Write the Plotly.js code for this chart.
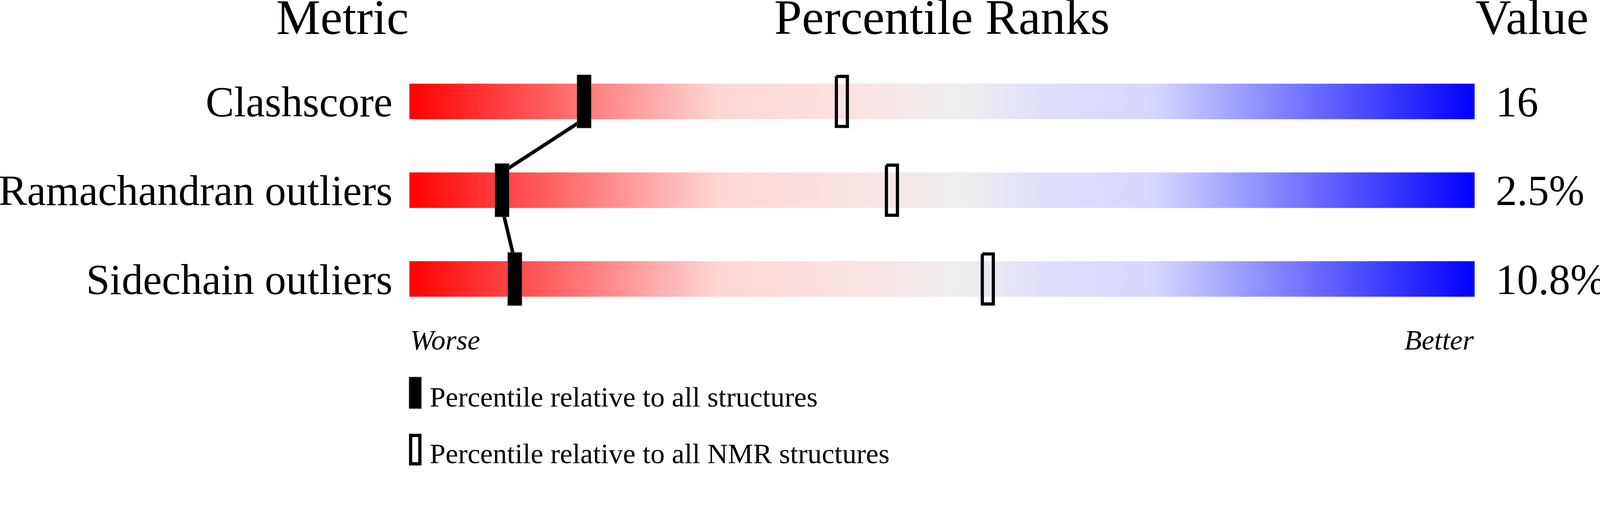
<!DOCTYPE html>
<html>
<head>
<meta charset="utf-8">
<script src="https://cdn.plot.ly/plotly-3.0.1.min.js"></script>
<style>
  html, body { margin: 0; padding: 0; background: #fff; overflow: hidden; }
</style>
</head>
<body>
<div id="chart"></div>
<script>
// values
const metrics = ["Clashscore", "Ramachandran outliers", "Sidechain outliers"];
const values = ["16", "2.5%", "10.8%"];
const pct_all = [16.4, 8.7, 9.9];     // percentile vs all structures
const pct_nmr = [40.6, 45.3, 54.3];   // percentile vs NMR structures
const legend_labels = ["Percentile relative to all structures",
                       "Percentile relative to all NMR structures"];

const FONT = "Liberation Serif";

// design is laid out for a 4506x1311 page, scaled to the real viewport
const W0 = 4506, H0 = 1311;
const s = Math.min(window.innerWidth / W0, window.innerHeight / H0);
const W = W0 * s, H = H0 * s;
const M0 = {l: 1153, r: 353, t: 161, b: 400};
const M = {l: M0.l * s, r: M0.r * s, t: M0.t * s, b: M0.b * s};
const plot_w0 = W0 - M0.l - M0.r;      // 3000
const plot_h0 = H0 - M0.t - M0.b;      // 750
const row_px = plot_h0 / 3;            // 250 px per row
const ux = 100 / plot_w0;              // percentile per design px
const uy = 1 / row_px;                 // row units per design px

// paper coords from design px
const px = p => (p - M0.l) / plot_w0;
const py = p => (H0 - M0.b - p) / plot_h0;

const gradient = [
  [0.00, "#ff0000"],
  [0.29, "#ffd6d6"],
  [0.42, "#fae3e3"],
  [0.52, "#eeeeee"],
  [0.60, "#dedefd"],
  [0.70, "#d6d6ff"],
  [1.00, "#0000ff"],
];

function box(cx, cy, wpx, hpx) {
  let hw = wpx * ux / 2, hh = hpx * uy / 2;
  return {
    x: [cx - hw, cx + hw, cx + hw, cx - hw, cx - hw],
    y: [cy - hh, cy - hh, cy + hh, cy + hh, cy - hh],
  };
}

let data = [];

// gradient sliders
metrics.forEach((m, i) => {
  let b = box(50, i, plot_w0, 100);
  data.push({
    x: b.x, y: b.y,
    type: "scatter", mode: "lines",
    line: {width: 0},
    fill: "toself",
    fillgradient: {type: "horizontal", colorscale: gradient},
    hoverinfo: "skip", showlegend: false,
  });
});

// line joining the "all structures" markers, bar edge to bar edge
let lx = [], ly = [];
for (let i = 0; i < pct_all.length - 1; i++) {
  lx.push(pct_all[i], pct_all[i + 1], null);
  ly.push(i + 50 * uy, i + 1 - 50 * uy, null);
}
data.push({
  x: lx, y: ly,
  type: "scatter", mode: "lines",
  line: {color: "#000", width: 10 * s},
  hoverinfo: "skip", showlegend: false,
});

// filled markers: all structures
pct_all.forEach((p, i) => {
  let b = box(p, i, 40, 150);
  data.push({
    x: b.x, y: b.y,
    type: "scatter", mode: "lines",
    line: {color: "#666", width: 1},
    fill: "toself", fillcolor: "#000",
    hoverinfo: "skip", showlegend: false,
  });
});

// open markers: NMR structures (on y2 so the value axis gets drawn)
pct_nmr.forEach((p, i) => {
  let b = box(p, i, 31, 141);
  data.push({
    x: b.x, y: b.y, yaxis: "y2",
    type: "scatter", mode: "lines",
    line: {color: "#000", width: 9 * s},
    hoverinfo: "skip", showlegend: false,
  });
});

function ann(text, x, xanchor, base_px, size, style) {
  return {
    text: text, showarrow: false,
    xref: "paper", yref: "paper",
    x: x, xanchor: xanchor,
    y: py(base_px - 0.35 * size), yanchor: "middle",
    font: {family: FONT, color: "#000", size: size * s, style: style || "normal"},
  };
}

let annotations = [
  ann("Metric", 0, "right", 98, 140),
  ann("Percentile Ranks", 0.5, "center", 98, 140),
  ann("Value", 1, "left", 98, 140),
  ann("Worse", 0, "left", 986, 80, "italic"),
  ann("Better", 1, "right", 986, 80, "italic"),
];
legend_labels.forEach((t, k) => {
  annotations.push(ann(t, px(1208), "left", 1146 + 160 * k, 80));
});

// legend keys
let shapes = [
  {type: "rect", xref: "paper", yref: "paper", layer: "above",
   x0: px(1152), x1: px(1187), y0: py(1151), y1: py(1062),
   fillcolor: "#000", line: {color: "#666", width: 1}},
  {type: "rect", xref: "paper", yref: "paper", layer: "above",
   x0: px(1156.5), x1: px(1182.5), y0: py(1306.5), y1: py(1226.5),
   fillcolor: "rgba(0,0,0,0)", line: {color: "#000", width: 9 * s}},
];

let yaxis_base = {
  range: [2.5, -0.5],
  tickvals: [0, 1, 2],
  ticks: "",
  showgrid: false, zeroline: false, showline: false,
  tickfont: {family: FONT, size: 120 * s, color: "#000"},
  fixedrange: true,
};

let layout = {
  width: W, height: H,
  margin: M,
  paper_bgcolor: "#fff", plot_bgcolor: "rgba(0,0,0,0)",
  showlegend: false,
  xaxis: {range: [0, 100], visible: false, fixedrange: true},
  yaxis: Object.assign({}, yaxis_base, {
    ticktext: metrics, ticklabelstandoff: Math.round(46 * s),
  }),
  yaxis2: Object.assign({}, yaxis_base, {
    ticktext: values, overlaying: "y", side: "right", anchor: "x",
    ticklabelstandoff: Math.round(58 * s),
  }),
  annotations: annotations,
  shapes: shapes,
};

Plotly.newPlot("chart", data, layout, {
  displayModeBar: false,
  staticPlot: true,
});
</script>
</body>
</html>
